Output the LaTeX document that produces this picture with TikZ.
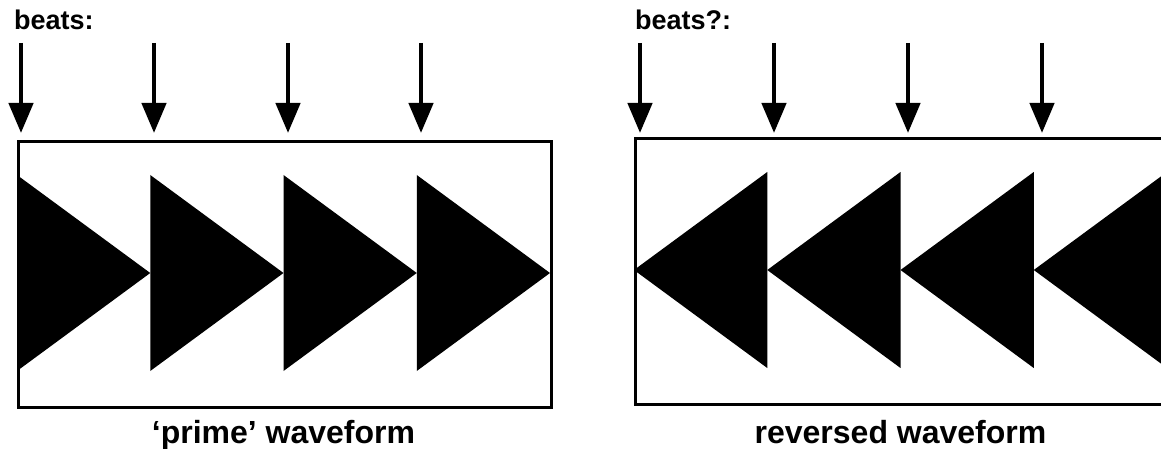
\documentclass[tikz,border=0pt]{standalone}
\usepackage{fontspec}
\setmainfont{Liberation Sans}
\usetikzlibrary{arrows.meta}
\begin{document}
\begin{tikzpicture}[x=1pt,y=-1pt,
  frame/.style={draw=black,line width=3pt,fill=none},
  wedge/.style={fill=black,draw=none},
  beatarrow/.style={line width=4.5pt,-{Triangle[width=24pt,length=30pt]}},
  toplabel/.style={anchor=base west,inner sep=0pt,font=\fontsize{27}{31}\selectfont\bfseries},
  caption/.style={anchor=base,inner sep=0pt,font=\fontsize{32}{37}\selectfont\bfseries}]
  \useasboundingbox (0,0) rectangle (1161,449);
  \def\w{133.25}
  % forward waveform: right-pointing wedges
  \foreach \i in {0,...,3}{
    \pgfmathsetmacro{\xa}{17+\w*\i}
    \pgfmathsetmacro{\xb}{17+\w*(\i+1)}
    \fill[wedge] (\xa,175) -- (\xb,273) -- (\xa,371) -- cycle;
  }
  \node[frame,minimum width=533pt,minimum height=266pt,inner sep=0pt,anchor=north west] (fwd) at (17,140) {};
  % reversed waveform: left-pointing wedges
  \foreach \i in {0,...,3}{
    \pgfmathsetmacro{\xa}{634+\w*\i}
    \pgfmathsetmacro{\xb}{634+\w*(\i+1)}
    \fill[wedge] (\xa,270) -- (\xb,172) -- (\xb,368) -- cycle;
  }
  \node[frame,minimum width=533pt,minimum height=266pt,inner sep=0pt,anchor=north west] (rev) at (634,137) {};
  % beat markers
  \foreach \x [count=\k] in {21,154,288,421}{
    \coordinate (fa\k) at (\x,43);
    \coordinate (fb\k) at (\x,133);
    \draw[beatarrow] (fa\k) -- (fb\k);
  }
  \foreach \x [count=\k] in {640,774,908,1042}{
    \coordinate (ra\k) at (\x,43);
    \coordinate (rb\k) at (\x,133);
    \draw[beatarrow] (ra\k) -- (rb\k);
  }
  \node[toplabel] (lbfwd) at (14,30) {beats:};
  \node[toplabel] (lbrev) at (635,30) {beats?:};
  \node[caption] (capfwd) at (283.5,443) {‘prime’ waveform};
  \node[caption] (caprev) at (900.5,443) {reversed waveform};
\end{tikzpicture}
\end{document}
